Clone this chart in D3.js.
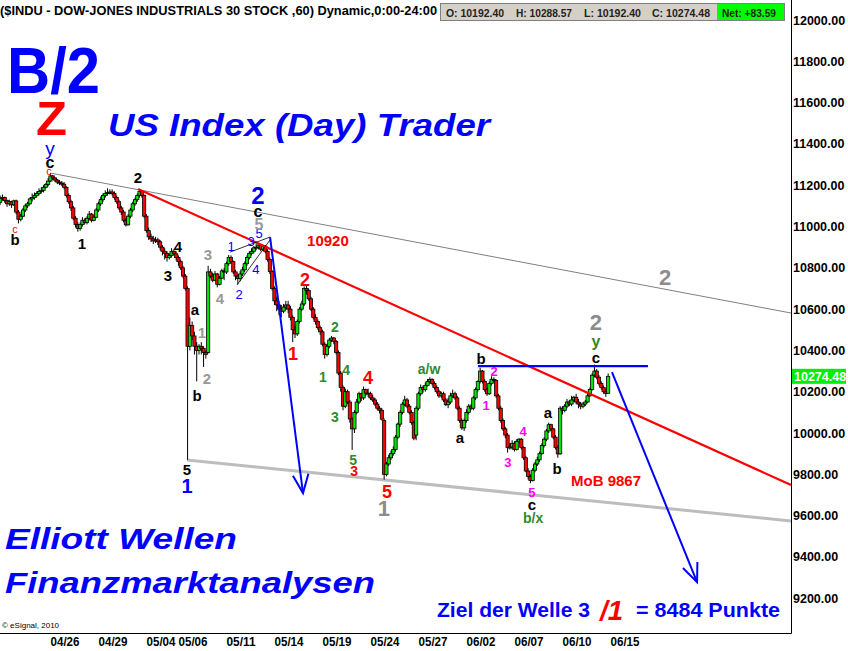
<!DOCTYPE html>
<html>
<head>
<meta charset="utf-8">
<script src="https://cdn.jsdelivr.net/npm/d3@7/dist/d3.min.js"></script>
<style>
body{margin:0;background:#fff;}
svg{display:block;font-family:"Liberation Sans",Arial,sans-serif;}
</style>
</head>
<body>
<svg id="chart" width="848" height="651"></svg>
<script>
// trading sessions on the chart, 7 hourly bars each (last one: first bar of 06/15)
var days = ['04/21','04/22','04/23','04/26','04/27','04/28','04/29','04/30','05/03','05/04',
	'05/05','05/06','05/07','05/10','05/11','05/12','05/13','05/14','05/17','05/18',
	'05/19','05/20','05/21','05/24','05/25','05/26','05/27','05/28','06/01','06/02',
	'06/03','06/04','06/07','06/08','06/09','06/10','06/11','06/14','06/15'];

var opens = [
	11117,11135,11140,11125,11110,11120,11105,
	11124,11070,11035,11050,11080,11100,11110,
	11134,11140,11150,11160,11170,11175,11190,
	11204,11220,11245,11235,11225,11215,11210,
	11205,11190,11150,11120,11090,11040,11010,
	10991,11010,11030,11020,11040,11060,11030,
	11045,11080,11110,11130,11150,11160,11165,
	11167,11160,11140,11120,11090,11070,11030,
	11008,11050,11080,11110,11130,11150,11170,
	11151,11050,10980,10950,10940,10930,10935,
	10926,10900,10880,10870,10850,10860,10880,
	10868,10850,10830,10800,10760,10700,10420,
	10520,10470,10420,10400,10420,10410,10390,
	10390,10780,10760,10740,10770,10720,10750,
	10785,10780,10820,10850,10830,10780,10760,
	10748,10770,10790,10820,10850,10870,10880,
	10897,10900,10910,10890,10905,10880,10840,
	10782,10700,10640,10620,10600,10590,10610,
	10620,10600,10560,10500,10480,10540,10600,
	10625,10700,10690,10650,10600,10560,10540,
	10510,10490,10430,10380,10420,10450,10460,
	10444,10390,10290,10220,10130,10200,10150,
	10068,10020,10100,10150,10190,10170,10210,
	10193,10190,10170,10160,10140,10120,10110,
	10060,9800,9850,9880,9900,9920,9980,
	10043,10100,10140,10160,10130,10100,10050,
	9990,10120,10190,10220,10210,10230,10250,
	10259,10240,10220,10200,10180,10190,10160,
	10137,10150,10180,10190,10170,10120,10060,
	10025,10060,10100,10130,10120,10170,10210,
	10249,10300,10250,10210,10190,10240,10260,
	10255,10180,10120,10060,10020,9990,9930,
	9932,9950,9920,9960,9970,9930,9880,
	9816,9790,9770,9820,9850,9870,9900,
	9940,9970,10010,10040,10020,9980,9930,
	9899,10120,10110,10130,10150,10140,10160,
	10173,10150,10140,10130,10140,10150,10180,
	10211,10280,10300,10270,10240,10220,10200,
	10192.40];

var highs = [
	11150,11155,11145,11130,11130,11125,11130,
	11130,11080,11060,11090,11110,11120,11140,
	11160,11165,11170,11185,11190,11200,11210,
	11235,11258,11250,11240,11230,11225,11220,
	11215,11195,11160,11130,11100,11050,11020,
	11020,11045,11040,11050,11075,11065,11055,
	11090,11120,11145,11160,11175,11185,11180,
	11180,11170,11150,11130,11100,11080,11040,
	11060,11090,11120,11140,11160,11180,11175,
	11155,11060,10995,10965,10955,10950,10945,
	10935,10910,10895,10880,10870,10895,10890,
	10880,10860,10840,10810,10770,10710,10560,
	10540,10490,10440,10430,10440,10420,10400,
	10810,10795,10775,10785,10775,10760,10795,
	10800,10830,10862,10860,10835,10790,10770,
	10785,10805,10830,10860,10880,10895,10905,
	10915,10920,10915,10910,10910,10890,10850,
	10790,10710,10660,10640,10620,10625,10640,
	10640,10615,10570,10520,10550,10610,10640,
	10710,10715,10700,10660,10610,10575,10550,
	10520,10500,10440,10430,10460,10470,10465,
	10450,10400,10300,10230,10215,10210,10160,
	10075,10110,10165,10200,10195,10225,10215,
	10215,10200,10185,10170,10150,10130,10120,
	10070,9860,9895,9915,9935,9990,10050,
	10110,10150,10180,10170,10140,10110,10060,
	10130,10200,10235,10230,10245,10262,10270,
	10265,10250,10230,10210,10200,10200,10170,
	10170,10195,10210,10200,10180,10130,10070,
	10070,10115,10140,10140,10180,10220,10255,
	10316,10305,10260,10220,10250,10275,10270,
	10260,10190,10130,10070,10030,10000,9950,
	9965,9960,9970,9975,9975,9935,9890,
	9830,9800,9830,9860,9885,9910,9950,
	9980,10020,10050,10045,10025,9990,9940,
	10130,10130,10140,10165,10160,10180,10180,
	10190,10165,10150,10150,10160,10190,10220,
	10290,10331,10310,10280,10250,10230,10215,
	10288.57];

var lows = [
	11105,11125,11115,11095,11100,11090,11100,
	11060,11015,11025,11045,11070,11090,11105,
	11120,11130,11140,11150,11160,11165,11185,
	11195,11215,11225,11215,11205,11200,11195,
	11180,11140,11110,11075,11030,10995,10975,
	10980,11000,11010,11010,11030,11020,11025,
	11040,11070,11100,11120,11140,11150,11155,
	11150,11130,11110,11080,11055,11020,11000,
	11005,11040,11070,11100,11120,11140,11140,
	11040,10970,10935,10925,10915,10920,10910,
	10885,10860,10840,10830,10840,10850,10860,
	10835,10810,10790,10750,10690,9870,10400,
	10450,10380,10250,10380,10380,10320,10360,
	10385,10750,10730,10735,10705,10715,10745,
	10740,10770,10810,10820,10770,10740,10720,
	10735,10760,10780,10810,10840,10860,10870,
	10885,10890,10880,10880,10870,10830,10770,
	10690,10620,10590,10570,10560,10580,10595,
	10580,10545,10440,10460,10470,10530,10590,
	10615,10670,10640,10590,10550,10525,10500,
	10475,10420,10360,10370,10410,10440,10430,
	10380,10280,10200,10110,10120,10140,10050,
	9918,10000,10090,10140,10155,10160,10180,
	10175,10160,10150,10130,10110,10095,10060,
	9774,9790,9840,9870,9890,9910,9970,
	10030,10090,10130,10120,10090,10040,9965,
	9965,10110,10180,10195,10200,10225,10240,
	10230,10210,10190,10170,10170,10150,10130,
	10120,10140,10170,10160,10110,10050,10015,
	10010,10050,10090,10110,10110,10160,10200,
	10240,10240,10200,10180,10185,10230,10245,
	10170,10110,10050,10010,9975,9905,9920,
	9920,9910,9915,9950,9920,9870,9810,
	9775,9757,9765,9810,9840,9860,9895,
	9930,9960,10000,10010,9970,9920,9880,
	9895,10090,10100,10120,10130,10130,10150,
	10140,10120,10115,10120,10130,10145,10175,
	10205,10270,10260,10230,10210,10190,10175,
	10192.40];

var closes = [
	11135,11140,11125,11110,11120,11105,11124,
	11070,11035,11050,11080,11100,11110,11134,
	11140,11150,11160,11170,11175,11190,11204,
	11220,11245,11235,11225,11215,11210,11205,
	11190,11150,11120,11090,11040,11010,10991,
	11010,11030,11020,11040,11060,11030,11045,
	11080,11110,11130,11150,11160,11165,11167,
	11160,11140,11120,11090,11070,11030,11008,
	11050,11080,11110,11130,11150,11170,11151,
	11050,10980,10950,10940,10930,10935,10926,
	10900,10880,10870,10850,10860,10880,10868,
	10850,10830,10800,10760,10700,10420,10520,
	10470,10420,10400,10420,10410,10390,10380,
	10780,10760,10740,10770,10720,10750,10785,
	10780,10820,10850,10830,10780,10760,10748,
	10770,10790,10820,10850,10870,10880,10897,
	10900,10910,10890,10905,10880,10840,10782,
	10700,10640,10620,10600,10590,10610,10620,
	10600,10560,10500,10480,10540,10600,10625,
	10700,10690,10650,10600,10560,10540,10510,
	10490,10430,10380,10420,10450,10460,10444,
	10390,10290,10220,10130,10200,10150,10068,
	10020,10100,10150,10190,10170,10210,10193,
	10190,10170,10160,10140,10120,10110,10067,
	9800,9850,9880,9900,9920,9980,10043,
	10100,10140,10160,10130,10100,10050,9975,
	10120,10190,10220,10210,10230,10250,10259,
	10240,10220,10200,10180,10190,10160,10137,
	10150,10180,10190,10170,10120,10060,10025,
	10060,10100,10130,10120,10170,10210,10249,
	10300,10250,10210,10190,10240,10260,10255,
	10180,10120,10060,10020,9990,9930,9932,
	9950,9920,9960,9970,9930,9880,9816,
	9790,9770,9820,9850,9870,9900,9940,
	9970,10010,10040,10020,9980,9930,9899,
	10120,10110,10130,10150,10140,10160,10173,
	10150,10140,10130,10140,10150,10180,10211,
	10280,10300,10270,10240,10220,10200,10191,
	10274.48];

var xTickDays = ['04/26','04/29','05/04','05/06','05/11','05/14','05/19','05/24','05/27','06/02','06/07','06/10','06/15'];
var yTicks = [9200,9400,9600,9800,10000,10200,10400,10600,10800,11000,11200,11400,11600,11800,12000];
var lastPrice = 10274.48;
var quote = ['O: 10192.40','H: 10288.57','L: 10192.40','C: 10274.48','Net: +83.59'];

// drawn lines: [session position, price]
var upperLine = [[3.19,11259],[49.5,10581]];
var redLine = [[8.69,11182],[49.5,9748]];
var lowerLine = [[11.75,9869],[49.5,9574]];
var levelLine = [[29.94,10324],[40.56,10324]];
var arrowOne = [[16.94,10949],[19.0,9709]];
var arrowTwo = [[38.31,10295],[43.63,9278]];
var wedgeTop = [[14.44,10876],[16.94,10949]];
var wedgeLow = [[14.88,10717],[16.94,10935]];

// wave counts: text, session position, price, colour, size, weight
var waveLabels = [
	['y',3.19,11380,'#0000ff',19,'normal'],
	['c',3.19,11312,'#000',16,'bold'],
	['c',3.125,11269,'#ff0000',11,'normal'],
	['c',1.0,10988,'#ff0000',11,'normal'],
	['b',1.0,10935,'#000',15,'bold'],
	['1',5.19,10920,'#000',15,'bold'],
	['2',8.69,11235,'#000',15,'bold'],
	['3',10.56,10765,'#000',15,'bold'],
	['4',11.19,10901,'#000',15,'bold'],
	['a',12.25,10596,'#000',15,'bold'],
	['b',12.38,10184,'#000',15,'bold'],
	['1',12.69,10489,'#999',15,'bold'],
	['2',13.0,10266,'#999',15,'bold'],
	['3',13.06,10862,'#999',15,'bold'],
	['4',13.81,10649,'#999',15,'bold'],
	['1',14.5,10901,'#0000ff',13,'normal'],
	['2',15.0,10673,'#0000ff',13,'normal'],
	['3',15.75,10925,'#0000ff',13,'normal'],
	['4',16.06,10794,'#0000ff',13,'normal'],
	['5',16.25,10964,'#0000ff',13,'normal'],
	['5',16.25,11012,'#999',16,'bold'],
	['c',16.19,11075,'#000',16,'bold'],
	['2',16.19,11148,'#0000ff',24,'bold'],
	['10920',20.56,10930,'#ff0000',15,'bold'],
	['1',18.38,10382,'#ff0000',18,'bold'],
	['2',19.13,10741,'#ff0000',18,'bold'],
	['1',20.25,10271,'#2e8b2e',14,'bold'],
	['2',21.0,10513,'#2e8b2e',14,'bold'],
	['3',21.0,10077,'#2e8b2e',14,'bold'],
	['4',21.69,10305,'#2e8b2e',14,'bold'],
	['5',22.13,9869,'#2e8b2e',14,'bold'],
	['3',22.19,9816,'#ff0000',14,'bold'],
	['4',23.06,10266,'#ff0000',18,'bold'],
	['5',24.25,9714,'#ff0000',18,'bold'],
	['1',24.06,9632,'#8c8c8c',22,'bold'],
	['a/w',26.88,10310,'#2e8b2e',14,'bold'],
	['a',28.81,9976,'#000',15,'bold'],
	['b',30.13,10363,'#000',15,'bold'],
	['1',30.44,10135,'#ff00ff',13,'bold'],
	['2',30.94,10300,'#ff00ff',13,'bold'],
	['3',31.81,9855,'#ff00ff',13,'bold'],
	['4',32.75,10005,'#ff00ff',13,'bold'],
	['5',33.31,9714,'#ff00ff',13,'bold'],
	['c',33.31,9656,'#000',15,'bold'],
	['b/x',33.38,9588,'#2e8b2e',14,'bold'],
	['a',34.31,10097,'#000',15,'bold'],
	['b',34.88,9830,'#000',15,'bold'],
	['c',37.31,10368,'#000',15,'bold'],
	['y',37.31,10441,'#2e8b2e',16,'bold'],
	['2',37.31,10533,'#8c8c8c',22,'bold'],
	['2',41.63,10751,'#8c8c8c',22,'bold'],
	['5',11.75,9821,'#000',15,'bold'],
	['1',11.75,9743,'#0000ff',20,'bold'],
	['MoB 9867',37.94,9772,'#ff0000',15,'bold']
];

var svg = d3.select('#chart');
var plotRight = 791, plotBottom = 633;

var x = d3.scaleLinear().domain([0, 50]).range([-1, 799]);
var y = d3.scaleLinear().domain([9200, 12000]).range([598.2, 20]);

svg.append('defs').append('clipPath').attr('id','plot')
	.append('rect').attr('x',0).attr('y',0).attr('width',plotRight).attr('height',plotBottom);

var plot = svg.append('g').attr('clip-path','url(#plot)');

var line = d3.line().x(d => x(d[0])).y(d => y(d[1]));

// trend lines
plot.append('path').attr('d', line(lowerLine)).attr('stroke','#bdbdbd').attr('stroke-width',3).attr('fill','none');
plot.append('path').attr('d', line(upperLine)).attr('stroke','#808080').attr('stroke-width',1).attr('fill','none');

// candles
var bars = closes.map((c,i) => ({
	cx: x(Math.floor(i/7) + (i%7 + 0.5)/7),
	o: opens[i], h: highs[i], l: lows[i], c: c
}));

var candle = plot.append('g').selectAll('g').data(bars).enter().append('g');
candle.append('line')
	.attr('x1', d => d.cx).attr('x2', d => d.cx)
	.attr('y1', d => y(d.h)).attr('y2', d => y(d.l))
	.attr('stroke','#000').attr('stroke-width',1);
candle.append('rect')
	.attr('x', d => d.cx - 1.6)
	.attr('width', 3.2)
	.attr('y', d => y(Math.max(d.o,d.c)))
	.attr('height', d => Math.max(1, Math.abs(y(d.o) - y(d.c))))
	.attr('fill', d => d.c >= d.o ? '#00e600' : '#ff0000')
	.attr('stroke','#000').attr('stroke-width',0.8);

plot.append('path').attr('d', line(redLine)).attr('stroke','#ff0000').attr('stroke-width',2.2).attr('fill','none');
plot.append('path').attr('d', line(levelLine)).attr('stroke','#0000ff').attr('stroke-width',2.2).attr('fill','none');
plot.append('path').attr('d', line(wedgeTop)).attr('stroke','#000').attr('stroke-width',0.8).attr('fill','none');
plot.append('path').attr('d', line(wedgeLow)).attr('stroke','#000').attr('stroke-width',0.8).attr('fill','none');

// blue target arrows
var drawArrow = pts => {
	plot.append('path').attr('d', line(pts)).attr('stroke','#0000ff').attr('stroke-width',2).attr('fill','none');
	var x1 = x(pts[0][0]), y1 = y(pts[0][1]), x2 = x(pts[1][0]), y2 = y(pts[1][1]);
	var ang = Math.atan2(y1 - y2, x1 - x2), len = 20, spread = 0.4;
	var head = [
		[x2 + len*Math.cos(ang - spread), y2 + len*Math.sin(ang - spread)],
		[x2, y2],
		[x2 + len*Math.cos(ang + spread), y2 + len*Math.sin(ang + spread)]
	];
	plot.append('path').attr('d', d3.line()(head)).attr('stroke','#0000ff').attr('stroke-width',2).attr('fill','none');
};
drawArrow(arrowOne);
drawArrow(arrowTwo);

// wave labels
plot.append('g').selectAll('text').data(waveLabels).enter().append('text')
	.attr('x', d => x(d[1]))
	.attr('y', d => y(d[2]))
	.attr('text-anchor','middle')
	.attr('dominant-baseline','central')
	.attr('fill', d => d[3])
	.attr('font-size', d => d[4])
	.attr('font-weight', d => d[5])
	.text(d => d[0]);

// axes frame
svg.append('line').attr('x1',plotRight+0.5).attr('x2',plotRight+0.5).attr('y1',0).attr('y2',plotBottom+0.5).attr('stroke','#000');
svg.append('line').attr('x1',0).attr('x2',plotRight+0.5).attr('y1',plotBottom+0.5).attr('y2',plotBottom+0.5).attr('stroke','#000');

var yAxis = svg.append('g')
	.attr('transform',`translate(${plotRight},0)`)
	.call(d3.axisRight(y).tickValues(yTicks).tickSize(0).tickPadding(2).tickFormat(d3.format('.2f')));
yAxis.select('.domain').remove();
yAxis.selectAll('text').attr('font-size',12.5).attr('font-weight','bold').attr('fill','#000')
	.attr('font-family','"Liberation Sans",Arial,sans-serif');

var tickIdx = xTickDays.map(t => days.indexOf(t));
var xAxis = svg.append('g')
	.attr('transform',`translate(3,${plotBottom})`)
	.call(d3.axisBottom(x).tickValues(tickIdx).tickSize(0).tickPadding(4).tickFormat(d => days[d]));
xAxis.select('.domain').remove();
xAxis.selectAll('text').attr('text-anchor','start').attr('font-size',13).attr('font-weight','bold')
	.attr('font-family','"Liberation Sans Narrow","Liberation Sans",Arial,sans-serif')
	.attr('textLength',29).attr('lengthAdjust','spacingAndGlyphs').attr('fill','#000');

// last price marker
svg.append('rect').attr('x',plotRight+1).attr('y',y(lastPrice)-7.5).attr('width',54).attr('height',15).attr('fill','#00ee00');
svg.append('text').attr('x',plotRight+3).attr('y',y(lastPrice)+5).attr('fill','#fff')
	.attr('font-size',12.5).attr('font-weight','bold').text(d3.format('.2f')(lastPrice));

// header
svg.append('text').attr('x',0).attr('y',15).attr('font-size',12.5).attr('font-weight','bold')
	.attr('textLength',437).attr('lengthAdjust','spacingAndGlyphs')
	.text('($INDU - DOW-JONES INDUSTRIALS 30 STOCK ,60) Dynamic,0:00-24:00');
svg.append('rect').attr('x',440.5).attr('y',3.5).attr('width',344).attr('height',17)
	.attr('fill','#d4d0c8').attr('stroke','#808080');
svg.append('rect').attr('x',717).attr('y',4).attr('width',67).attr('height',16).attr('fill','#00ff00');
var quoteX = [446,516,584,652,722], quoteW = [58,56,57,58,54];
quote.forEach((q,i) => {
	svg.append('text').attr('x',quoteX[i]).attr('y',16.5).attr('font-size',11).attr('font-weight','bold')
		.attr('fill','#222').attr('textLength',quoteW[i]).attr('lengthAdjust','spacingAndGlyphs').text(q);
});

// titles
var title = (t, x0, y0, size, col, len, italic) => svg.append('text')
	.attr('x',x0).attr('y',y0).attr('font-size',size).attr('font-weight','bold')
	.attr('font-style', italic ? 'italic' : 'normal').attr('fill',col)
	.attr('textLength',len).attr('lengthAdjust','spacingAndGlyphs').text(t);

title('B/2', 7, 93, 64, '#0000ff', 93, false);
title('Z', 36, 135, 48, '#ff0000', 31, false);
title('US Index (Day) Trader', 108, 136, 32, '#0000ff', 382, true);
title('Elliott Wellen', 5, 549, 30, '#0000ff', 232, true);
title('Finanzmarktanalysen', 5, 593, 30, '#0000ff', 370, true);
title('Ziel der Welle 3', 437, 617, 21, '#0000ff', 153, false);
title('/1', 600, 620, 27, '#ff0000', 23, true);
title('= 8484 Punkte', 636, 617, 21, '#0000ff', 144, false);

svg.append('text').attr('x',2).attr('y',628).attr('font-size',8).attr('fill','#000').text('\u00a9 eSignal, 2010');
</script>
</body>
</html>
